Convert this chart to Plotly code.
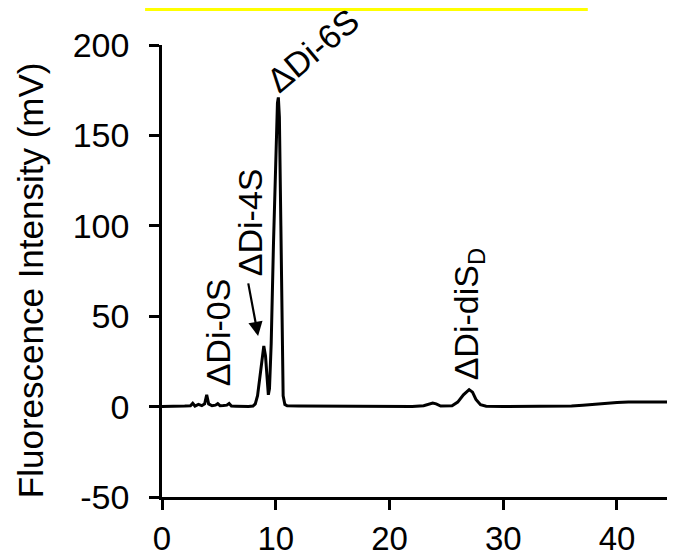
import plotly.graph_objects as go

# Retention time (min) and fluorescence intensity (mV)
time_min = [0, 1.0, 2.0, 2.5, 2.7, 2.9, 3.2, 3.5, 3.75, 3.93, 4.1, 4.4, 4.7, 4.9, 5.1,
            5.4, 5.7, 5.9, 6.1, 6.5, 7.0, 7.6, 8.0, 8.2, 8.4, 8.6, 8.8, 8.95, 9.1,
            9.25, 9.35, 9.45, 9.6, 9.8, 10.0, 10.15, 10.23, 10.32, 10.45, 10.55,
            10.65, 10.8, 11.0, 12, 14, 16, 18, 20, 22, 23.0, 23.5, 23.8, 24.1, 24.5,
            25.5, 26.0, 26.5, 27.0, 27.3, 27.6, 28.0, 28.5, 30, 32, 34, 35, 36, 37,
            38, 39, 40, 41, 42, 43, 44, 45.1]
intensity_mv = [0, 0, 0.3, 0.5, 1.8, 0.3, 1.2, 0.5, 1.5, 6.5, 1.5, 0.5, 0.8, 1.6, 0.5,
                0.6, 0.8, 1.7, 0.3, 0.2, 0, 0, 0.3, 1.5, 6, 16, 28, 33.5, 28,
                14, 6.5, 10, 35, 90, 145, 168, 171, 160, 100, 35,
                6, 1.2, 0.5, 0.4, 0.3, 0.2, 0, 0, 0.1, 0.5, 1.6, 2.0, 1.5, 0.3,
                0.5, 2.5, 6.5, 9.4, 8, 4, 1, 0.2, 0, 0, 0, 0.1, 0.3, 0.7,
                1.3, 1.8, 2.2, 2.5, 2.6, 2.6, 2.6, 2.5]

x_ticks = [0, 10, 20, 30, 40]
x_tick_labels = ["0", "10", "20", "30", "40"]
y_ticks = [-50, 0, 50, 100, 150, 200]
y_tick_labels = ["-50", "0", "50", "100", "150", "200"]

peak_labels = ["ΔDi-0S", "ΔDi-4S", "ΔDi-6S", "ΔDi-diS<sub>D</sub>"]
label_x = [5.0, 7.74, 13.3, 26.9]
label_y = [41, 102, 197, 51]
label_angle = [-90, -90, -40, -90]

y_title = "Fluorescence Intensity (mV)"

FONT = "Liberation Sans, Arial, sans-serif"

fig = go.Figure()
fig.add_trace(go.Scatter(x=time_min, y=intensity_mv, mode="lines",
                         line=dict(color="black", width=3), showlegend=False,
                         hoverinfo="skip"))

for txt, lx, ly, ang in zip(peak_labels, label_x, label_y, label_angle):
    fig.add_annotation(x=lx, y=ly, xref="x", yref="y", text=txt, showarrow=False,
                       textangle=ang, font=dict(family=FONT, size=34, color="black"),
                       xanchor="center", yanchor="middle")

# arrow pointing to the ΔDi-4S peak
fig.add_annotation(x=8.45, y=39, xref="x", yref="y", ax=7.56, ay=69,
                   axref="x", ayref="y", text="", showarrow=True,
                   arrowhead=2, arrowsize=1.3, arrowwidth=2.2, arrowcolor="black")

# y-axis title placed as rotated text
fig.add_annotation(x=-0.257, y=0.48, xref="paper", yref="paper", text=y_title,
                   showarrow=False, textangle=-90, xanchor="center", yanchor="middle",
                   font=dict(family=FONT, size=35, color="black"))

# yellow highlight bar at the top
fig.add_shape(type="rect", xref="paper", yref="paper",
              x0=-0.033, x1=0.83, y0=1.075, y1=1.09,
              fillcolor="#ffff00", line=dict(width=0), layer="above")

fig.update_layout(
    width=667, height=551,
    margin=dict(l=154, r=0, t=37, b=62),
    plot_bgcolor="white", paper_bgcolor="white",
    font=dict(family=FONT, size=34, color="black"),
    xaxis=dict(range=[0, 45.1], tickvals=x_ticks, ticktext=x_tick_labels,
               ticks="outside", ticklen=10,
               tickwidth=2.5, tickcolor="black", showline=True, linewidth=2.5,
               linecolor="black", showgrid=False, zeroline=False,
               ticklabelstandoff=1, automargin=False,
               tickfont=dict(family=FONT, size=33, color="black")),
    yaxis=dict(range=[-50, 200], tickvals=y_ticks, ticktext=y_tick_labels,
               ticks="outside", ticklen=10,
               tickwidth=2.5, tickcolor="black", showline=True, linewidth=2.5,
               linecolor="black", showgrid=False, zeroline=False,
               ticklabelstandoff=13, automargin=False,
               tickfont=dict(family=FONT, size=34, color="black")),
)

fig.write_html("out.html")
